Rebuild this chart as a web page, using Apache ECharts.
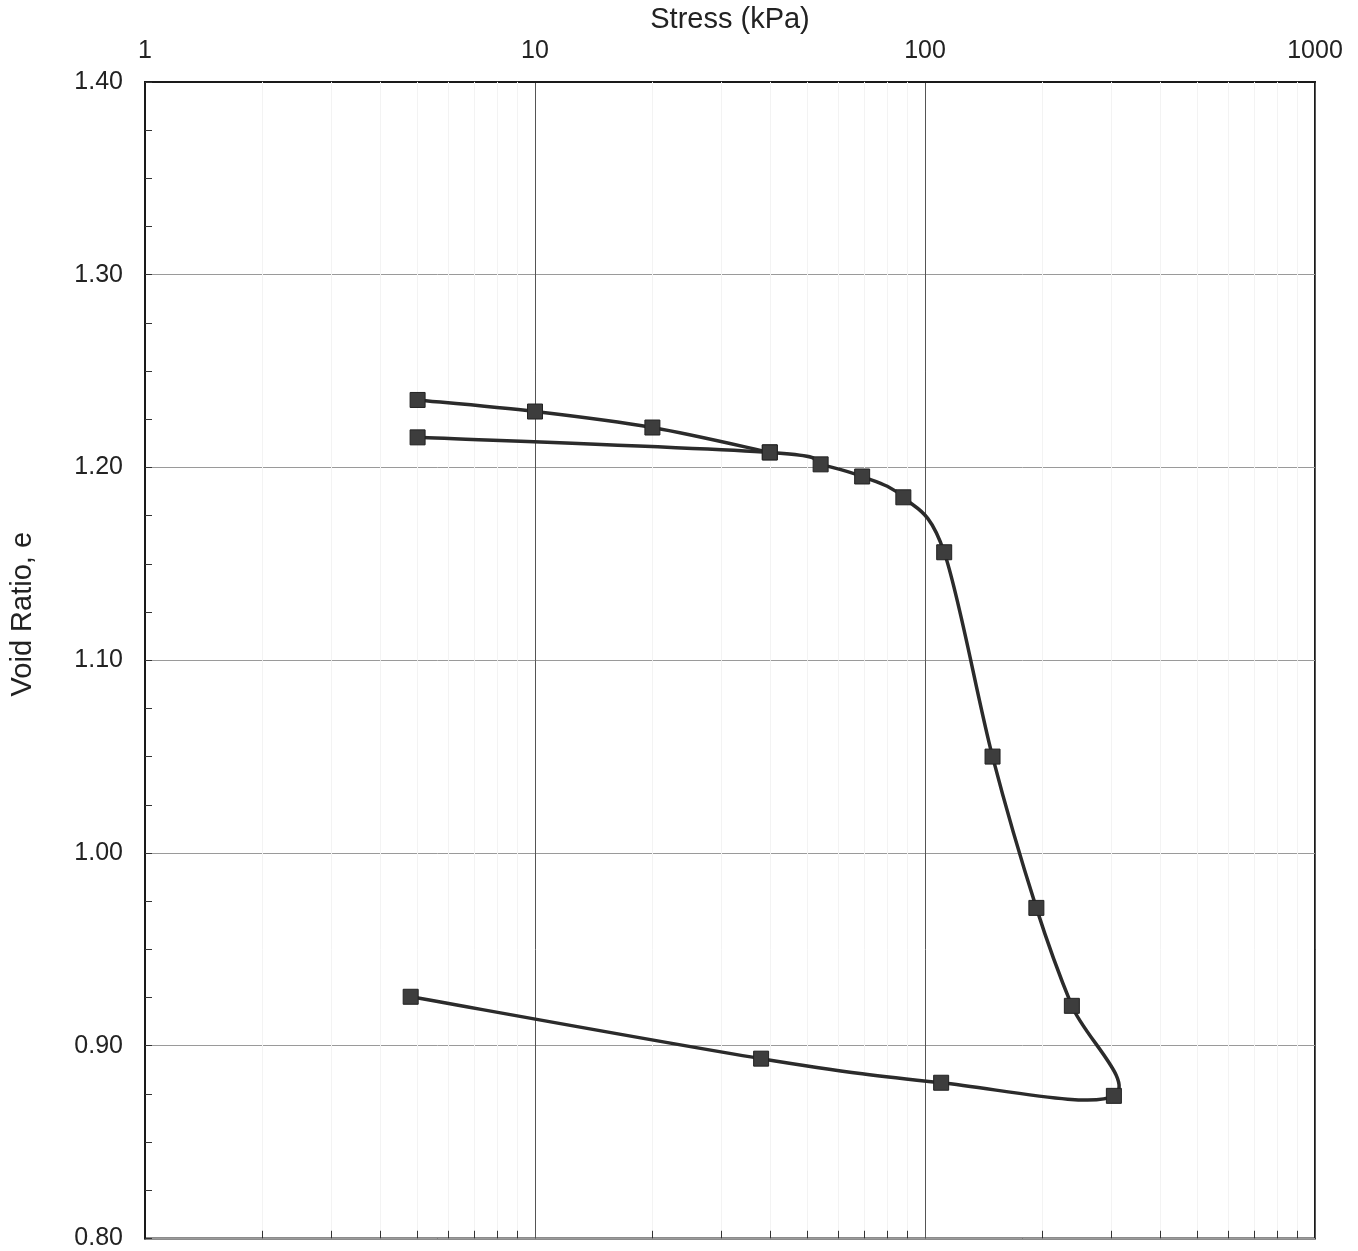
<!DOCTYPE html>
<html>
<head>
<meta charset="utf-8">
<title>Void Ratio vs Stress</title>
<script src="https://cdn.jsdelivr.net/npm/echarts@6/dist/echarts.min.js"></script>
<style>
    html, body { margin: 0; padding: 0; background: #fff; }
    #chart { width: 1358px; height: 1251px; }
</style>
</head>
<body>
<div id="chart"></div>
<script>
// 数据：加载 5-40 kPa 段
var loadStress = [5, 10, 20, 40];
var loadVoid   = [1.235, 1.229, 1.2207, 1.2078];

// 卸载到 5 kPa 后再加载，直到 305 kPa，然后卸载
var mainStress = [5, 40, 54, 69, 88, 112, 149, 193, 238, 305, 110, 38, 4.8];
var mainVoid   = [1.2156, 1.2078, 1.2016, 1.1953, 1.1845, 1.156, 1.050, 0.9715, 0.9207, 0.874, 0.8808, 0.8933, 0.9254];

// 对数轴次刻度
var minorStress = [2, 3, 4, 5, 6, 7, 8, 9, 20, 30, 40, 50, 60, 70, 80, 90, 200, 300, 400, 500, 600, 700, 800, 900];

function pairs(xs, ys) {
    var out = [];
    for (var i = 0; i < xs.length; i++) {
        out.push([xs[i], ys[i]]);
    }
    return out;
}

// 类似 Excel 的平滑曲线：每段用 Catmull-Rom 转成贝塞尔
function splineSeries(data) {
    var n = data.length;
    return {
        type: 'custom',
        data: data,
        encode: { x: 0, y: 1 },
        clip: true,
        silent: true,
        z: 4,
        renderItem: function (params, api) {
            var i = params.dataIndexInside;
            if (i >= n - 1) {
                return { type: 'group', children: [] };
            }
            var pt = function (k) {
                k = Math.max(0, Math.min(n - 1, k));
                return api.coord([api.value(0, k), api.value(1, k)]);
            };
            var p0 = pt(i - 1), p1 = pt(i), p2 = pt(i + 1), p3 = pt(i + 2);
            return {
                type: 'bezierCurve',
                shape: {
                    x1: p1[0], y1: p1[1],
                    x2: p2[0], y2: p2[1],
                    cpx1: p1[0] + (p2[0] - p0[0]) / 6,
                    cpy1: p1[1] + (p2[1] - p0[1]) / 6,
                    cpx2: p2[0] - (p3[0] - p1[0]) / 6,
                    cpy2: p2[1] - (p3[1] - p1[1]) / 6
                },
                style: { stroke: '#2b2b2b', lineWidth: 3.5, lineCap: 'round', fill: null }
            };
        }
    };
}

function markerSeries(data) {
    return {
        type: 'scatter',
        symbol: 'rect',
        symbolSize: 15,
        itemStyle: { color: '#3d3d3d', borderColor: '#222', borderWidth: 1, opacity: 1 },
        data: data,
        z: 5
    };
}

var myChart = echarts.init(document.getElementById('chart'));
var font = 'Liberation Sans, Arial, sans-serif';

var option = {
    animation: false,
    backgroundColor: '#fff',
    grid: {
        left: 145,
        right: 43,
        top: 80,
        bottom: 12,
        show: true,
        borderColor: '#1a1a1a',
        borderWidth: 2
    },
    xAxis: {
        type: 'log',
        logBase: 10,
        min: 1,
        max: 1000,
        position: 'top',
        name: 'Stress (kPa)',
        nameLocation: 'middle',
        nameGap: 38,
        nameTextStyle: { fontSize: 29, color: '#222', fontFamily: font },
        axisLine: { show: true, lineStyle: { color: '#1a1a1a', width: 2 } },
        axisTick: { show: false },
        axisLabel: {
            fontSize: 25,
            color: '#222',
            fontFamily: font,
            margin: 18,
            formatter: function (v) { return String(Math.round(v)); }
        },
        splitLine: { show: true, lineStyle: { color: '#555', width: 1 } }
    },
    yAxis: {
        type: 'value',
        min: 0.8,
        max: 1.4,
        interval: 0.1,
        name: 'Void Ratio, e',
        nameLocation: 'middle',
        nameGap: 108,
        nameRotate: 90,
        nameTextStyle: { fontSize: 29, color: '#222', fontFamily: font, padding: [0, 0, 0, 92] },
        axisLine: { show: true, lineStyle: { color: '#1a1a1a', width: 2 } },
        axisTick: { show: true, inside: true, length: 7, lineStyle: { color: '#333' } },
        minorTick: { show: true, splitNumber: 4, length: 7, lineStyle: { color: '#333' } },
        axisLabel: {
            fontSize: 25,
            color: '#222',
            fontFamily: font,
            margin: 22,
            formatter: function (v) { return v.toFixed(2); }
        },
        splitLine: { show: true, lineStyle: { color: '#9a9a9a', width: 1 } }
    },
    series: [
        {
            // 次网格线和底部刻度，放在曲线下面
            type: 'line',
            data: [],
            silent: true,
            z: 1,
            markLine: {
                silent: true,
                z: 1,
                symbol: 'none',
                label: { show: false },
                animation: false,
                data: minorStress.map(function (v) {
                    return { xAxis: v, lineStyle: { color: '#f3f3f3', width: 1, type: 'solid' } };
                }).concat(minorStress.map(function (v) {
                    return [
                        { coord: [v, 0.8], lineStyle: { color: '#333', width: 1, type: 'solid' } },
                        { coord: [v, 0.804] }
                    ];
                }))
            }
        },
        splineSeries(pairs(loadStress, loadVoid)),
        splineSeries(pairs(mainStress, mainVoid)),
        markerSeries(pairs(loadStress, loadVoid)),
        markerSeries(pairs(mainStress, mainVoid))
    ]
};

myChart.setOption(option);
</script>
</body>
</html>
